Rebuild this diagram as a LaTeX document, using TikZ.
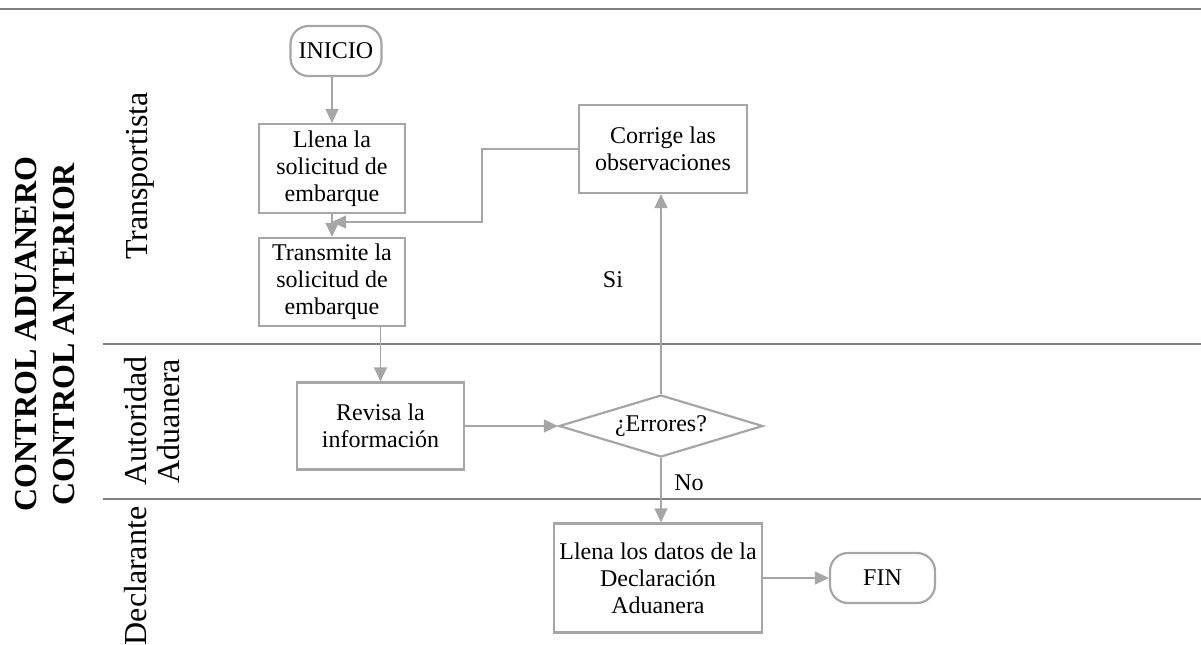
\documentclass[tikz,border=0pt]{standalone}
\usepackage{fontspec}
\setmainfont{Liberation Serif}
\usetikzlibrary{shapes.geometric,arrows.meta}
\definecolor{boxgray}{RGB}{166,166,166}
\definecolor{lanegray}{RGB}{128,128,128}
\begin{document}
\begin{tikzpicture}[x=0.5pt,y=-0.5pt,
  box/.style={draw=boxgray,line width=1.1pt,align=center,inner sep=0pt,
    font=\fontsize{12}{13.5}\selectfont},
  term/.style={box,rounded corners=9pt},
  decision/.style={box,diamond,aspect=3.3},
  conn/.style={draw=boxgray,line width=0.65pt,-{Triangle[length=7pt,width=6.5pt]}},
  lane/.style={draw=lanegray,line width=1pt},
  lanelabel/.style={rotate=90,inner sep=0pt,align=center,font=\fontsize{16}{16.5}\selectfont},
  biglabel/.style={rotate=90,inner sep=0pt,align=center,font=\fontsize{16}{19}\selectfont\bfseries},
  lbl/.style={inner sep=0pt,font=\fontsize{12}{13.5}\selectfont}]
\useasboundingbox (0,0) rectangle (1201,644);
% swimlane lines
\draw[lane] (0,9) -- (1201,9);
\draw[lane] (103,344) -- (1201,344);
\draw[lane] (103,499) -- (1201,499);
% labels
\node[biglabel] (title) at (45,334) {CONTROL ADUANERO\\CONTROL ANTERIOR};
\node[lanelabel] (l1) at (140,176) {Transportista};
\node[lanelabel] (l2) at (152,421) {Autoridad\\Aduanera};
\node[lanelabel] (l3) at (136,576) {Declarante};
% nodes
\node[term,minimum width=45.5pt,minimum height=25pt] (inicio) at (336,51) {INICIO};
\node[box,minimum width=73pt,minimum height=44.5pt] (llena) at (332,168.5) {Llena la\\solicitud de\\embarque};
\node[box,minimum width=73pt,minimum height=44pt] (trans) at (332,282) {Transmite la\\solicitud de\\embarque};
\node[box,minimum width=84pt,minimum height=44pt] (corr) at (663,149) {Corrige las\\observaciones};
\node[box,minimum width=83.5pt,minimum height=43.5pt] (rev) at (380.5,426) {Revisa la\\información};
\node[decision,minimum width=102pt,minimum height=31pt] (err) at (661,426) {¿Errores?};
\node[box,minimum width=104pt,minimum height=54.5pt] (datos) at (658,578) {Llena los datos de la\\Declaración\\Aduanera};
\node[term,minimum width=52.5pt,minimum height=25pt] (fin) at (882.5,578) {FIN};
% connectors
\coordinate (join) at (332,222);
\coordinate (bend) at (482,222);
\draw[conn] (inicio.south -| llena.north) -- (llena.north);
\draw[conn] (llena) -- (trans);
\draw[conn] (corr.west) -| (bend) -- (join);
\draw[conn] (rev.north |- trans.south) -- (rev.north);
\draw[conn] (rev.east) -- (err.west);
\draw[conn] (err.north) -- (err.north |- corr.south);
\draw[conn] (err.south) -- (err.south |- datos.north);
\draw[conn] (datos.east) -- (fin.west);
\node[lbl] (si) at (613,280) {Si};
\node[lbl] (no) at (689,483) {No};
\end{tikzpicture}
\end{document}
